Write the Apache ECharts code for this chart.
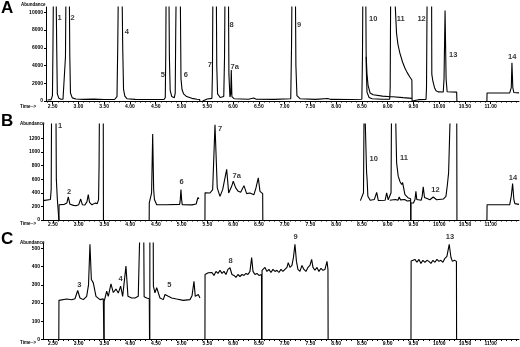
<!DOCTYPE html>
<html>
<head>
<meta charset="utf-8">
<script src="https://cdn.jsdelivr.net/npm/echarts@6.0.0/dist/echarts.min.js"></script>
<style>
html,body{margin:0;padding:0;background:#fff;}
#chart{width:520px;height:347px;}
</style>
</head>
<body>
<div id="chart"></div>
<script>
// ---------- tick values / labels ----------
const xTickValues = [2.5,3,3.5,4,4.5,5,5.5,6,6.5,7,7.5,8,8.5,9,9.5,10,10.5,11];
const xTickLabels = ['2.50','3.00','3.50','4.00','4.50','5.00','5.50','6.00','6.50','7.00','7.50','8.00','8.50','9.00','9.50','10.00','10.50','11.00'];
const yTicksA = [0,2000,4000,6000,8000,10000];
const yTicksB = [0,200,400,600,800,1000,1200];
const yTicksC = [0,100,200,300,400,500];

// ---------- panel A segments [time, abundance] ----------
const aSeg1 = [[2.40,120],[2.47,150],[2.495,600],[2.505,6000],[2.515,13000],[2.565,13000],[2.578,6000],[2.59,800],[2.62,300],[2.66,200],[2.70,200],[2.735,300],[2.748,5000],[2.758,13000],[2.822,13000],[2.832,5000],[2.845,900],[2.88,350],[2.95,220],[3.10,180],[3.30,210],[3.50,170],[3.70,170],[3.748,500],[3.762,6000],[3.775,13000],[3.845,13000],[3.859,6000],[3.875,1300],[3.90,550],[3.94,260],[4.10,180],[4.40,170],[4.66,170],[4.685,400],[4.694,5000],[4.702,13000],[4.755,13000],[4.765,5000],[4.78,1200],[4.81,520],[4.86,380],[4.878,900],[4.888,8000],[4.898,13000],[4.975,13000],[4.99,2500],[5.01,1300],[5.04,800],[5.10,500],[5.20,300],[5.30,200],[5.352,170],[5.356,0]];
const aSeg2 = [[5.41,0],[5.415,200],[5.50,220],[5.59,300],[5.600,3000],[5.61,13000],[5.675,13000],[5.684,4000],[5.70,800],[5.75,400],[5.82,500],[5.835,5000],[5.845,13000],[5.91,13000],[5.92,3000],[5.94,450],[5.955,800],[5.966,3500],[5.978,500],[6.02,260],[6.30,200],[6.40,330],[6.45,200],[6.80,180],[7.12,250],[7.135,6000],[7.145,13000],[7.21,13000],[7.22,4000],[7.24,600],[7.30,260],[7.60,180],[7.84,280],[7.90,180],[8.30,170],[8.50,200],[8.512,5000],[8.52,13000],[8.575,13000],[8.585,4000],[8.60,1000],[8.64,400],[8.70,250],[8.90,200],[9.04,200],[9.05,1500],[9.06,13000],[9.135,13000],[9.15,10500],[9.173,7660],[9.20,6400],[9.238,5400],[9.29,4400],[9.335,3720],[9.38,3200],[9.432,2700],[9.471,2370],[9.475,0]];
const aTrace2 = [[8.585,5000],[8.60,3000],[8.62,1800],[8.66,900],[8.72,700],[8.90,550],[9.06,480],[9.08,700],[9.10,480],[9.30,380],[9.471,300]];
const aSeg3 = [[9.48,0],[9.485,130],[9.60,150],[9.745,180],[9.755,1500],[9.768,13000],[9.853,13000],[9.858,3000],[9.88,2200],[9.91,1500],[9.94,1150],[9.98,1030],[10.08,1010],[10.095,2500],[10.115,10200],[10.135,2500],[10.155,1050],[10.34,1000],[10.345,0]];
const aSeg4 = [[10.927,0],[10.93,900],[11.37,920],[11.40,1500],[11.413,4300],[11.43,1500],[11.45,950],[11.55,920]];

// ---------- panel B ----------
const bSeg1 = [[2.31,285],[2.45,300],[2.465,450],[2.475,2000],[2.555,2000],[2.565,600],[2.583,323],[2.60,300],[2.612,297],[2.614,0]];
const bSeg2 = [[2.616,0],[2.618,225],[2.72,230],[2.77,250],[2.797,340],[2.83,230],[2.90,215],[2.947,210],[3.00,225],[3.038,308],[3.07,225],[3.12,220],[3.16,270],[3.185,372],[3.21,260],[3.257,223],[3.316,248],[3.36,240],[3.385,300],[3.395,800],[3.405,2000],[3.475,2000],[3.48,0]];
const bSeg3 = [[4.368,0],[4.370,250],[4.40,260],[4.415,400],[4.436,1264],[4.455,450],[4.47,300],[4.514,225],[4.70,225],[4.96,230],[4.972,300],[4.985,446],[4.998,300],[5.01,225],[5.20,222],[5.28,235],[5.30,290],[5.316,330],[5.335,310]];
const bSeg4 = [[5.451,0],[5.453,400],[5.484,406],[5.549,397],[5.601,446],[5.646,1400],[5.69,471],[5.743,347],[5.795,446],[5.873,744],[5.912,397],[5.970,495],[6.001,570],[6.048,471],[6.098,421],[6.145,406],[6.209,505],[6.261,387],[6.325,397],[6.403,372],[6.442,471],[6.487,620],[6.52,421],[6.572,387],[6.575,0]];
const bSeg5 = [[8.47,285],[8.50,290],[8.53,400],[8.545,2000],[8.575,2000],[8.59,700],[8.60,600],[8.615,350],[8.66,290],[8.74,300],[8.786,406],[8.817,287],[8.95,290],[8.98,397],[9.01,297],[9.045,300],[9.065,400],[9.077,2000],[9.141,2000],[9.173,843],[9.204,644],[9.238,565],[9.271,520],[9.29,550],[9.335,372],[9.393,327],[9.445,312],[9.448,0]];
const bTrace2 = [[9.04,290],[9.15,300],[9.20,290],[9.224,340],[9.25,295],[9.33,300],[9.38,280],[9.445,285]];
const bSeg6 = [[9.45,0],[9.452,250],[9.50,250],[9.53,300],[9.548,421],[9.565,300],[9.593,287],[9.65,290],[9.67,350],[9.690,486],[9.715,330],[9.743,308],[9.82,297],[9.885,338],[9.95,297],[10.08,308],[10.131,347],[10.156,495],[10.183,694],[10.209,1413],[10.22,2000],[10.34,2000],[10.345,0]];
const bSeg7 = [[10.927,0],[10.93,225],[11.37,225],[11.40,350],[11.426,535],[11.45,300],[11.47,240],[11.55,230]];

// ---------- panel C ----------
const cSeg1 = [[2.613,0],[2.616,215],[2.766,222],[2.863,218],[2.927,224],[2.98,269],[3.024,228],[3.089,219],[3.154,237],[3.19,300],[3.218,523],[3.245,330],[3.283,311],[3.335,237],[3.413,219],[3.477,223],[3.49,0]];
const cSeg2 = [[3.492,0],[3.494,210],[3.543,265],[3.574,237],[3.626,305],[3.671,258],[3.723,277],[3.768,255],[3.814,293],[3.853,237],[3.917,403],[3.956,237],[4.028,228],[4.092,228],[4.156,237],[4.185,245],[4.195,700],[4.26,700],[4.27,235],[4.319,228],[4.37,224],[4.375,0]];
const cSeg3 = [[4.38,0],[4.382,700],[4.445,700],[4.45,293],[4.48,256],[4.514,284],[4.578,228],[4.642,219],[4.675,247],[4.708,256],[4.739,237],[4.805,228],[4.90,222],[5.03,215],[5.16,219],[5.20,240],[5.238,320],[5.263,237],[5.322,247],[5.354,228]];
const cSeg4 = [[5.451,0],[5.453,357],[5.484,355],[5.516,367],[5.549,357],[5.587,368],[5.626,352],[5.665,374],[5.704,363],[5.743,380],[5.781,363],[5.820,374],[5.859,357],[5.898,385],[5.937,394],[5.976,357],[6.015,352],[6.053,341],[6.092,357],[6.131,346],[6.17,357],[6.209,352],[6.248,363],[6.287,357],[6.325,374],[6.358,450],[6.384,374],[6.422,357],[6.461,363],[6.5,352],[6.549,357],[6.553,0]];
const cSeg5 = [[6.558,0],[6.56,380],[6.578,380],[6.617,396],[6.655,374],[6.694,385],[6.733,368],[6.772,385],[6.811,374],[6.85,380],[6.888,368],[6.927,385],[6.966,374],[7.005,385],[7.044,396],[7.069,422],[7.102,396],[7.141,407],[7.17,451],[7.199,523],[7.228,429],[7.257,385],[7.296,374],[7.335,407],[7.373,385],[7.412,374],[7.451,396],[7.49,407],[7.523,440],[7.549,396],[7.587,380],[7.626,396],[7.665,374],[7.704,391],[7.743,380],[7.782,385],[7.821,429],[7.84,385],[7.843,0]];
const cSeg6 = [[9.452,0],[9.455,431],[9.49,429],[9.529,440],[9.568,424],[9.607,440],[9.646,418],[9.684,435],[9.723,424],[9.762,435],[9.801,429],[9.84,418],[9.879,435],[9.917,424],[9.956,440],[9.995,429],[10.034,435],[10.072,424],[10.111,446],[10.15,457],[10.195,523],[10.228,452],[10.257,429],[10.296,435],[10.335,429],[10.338,0]];

// ---------- peak labels [text, time, abundance] ----------
const labelsA = [['1',2.636,9350],['2',2.888,9350],['4',3.937,7780],['5',4.636,2930],['6',5.083,2930],['7',5.549,4060],['8',5.970,8565],['7a',6.034,3830],['9',7.283,8565],['10',8.719,9200],['11',9.252,9200],['12',9.659,9200],['13',10.273,5180],['14',11.418,4960]];
const labelsB = [['1',2.636,1375],['2',2.811,416],['6',4.999,560],['7',5.743,1338],['7a',6.067,644],['10',8.727,892],['11',9.316,907],['12',9.927,446],['14',11.432,617]];
const labelsC = [['3',3.011,302],['4',3.814,330],['5',4.758,302],['8',5.95,431],['9',7.213,561],['13',10.209,561]];

const FONT = 'Liberation Sans';
const xMinor = [];
for (let v = 24; v <= 115; v++) xMinor.push(v / 10);

const panels = [
  {grid:{left:46, top:7, width:473, height:94}, xmin:2.37, ymax:10600, yticks:yTicksA, segs:[aSeg1,aSeg2,aTrace2,aSeg3,aSeg4], labels:labelsA, xMargin:3},
  {grid:{left:43, top:124, width:476, height:96}, xmin:2.306, ymax:1410, yticks:yTicksB, segs:[bSeg1,bSeg2,bSeg3,bSeg4,bSeg5,bTrace2,bSeg6,bSeg7], labels:labelsB, xMargin:2},
  {grid:{left:43, top:243, width:476, height:96.5}, xmin:2.306, ymax:530, yticks:yTicksC, segs:[cSeg1,cSeg2,cSeg3,cSeg4,cSeg5,cSeg6], labels:labelsC, xMargin:1.5}
];

const fmtX = v => {
  const i = xTickValues.findIndex(t => Math.abs(t - v) < 1e-6);
  return i >= 0 ? xTickLabels[i] : '';
};

const grid = [], xAxis = [], yAxis = [], series = [];
panels.forEach((p, i) => {
  grid.push(Object.assign({outerBoundsMode:'none', containLabel:false}, p.grid));
  xAxis.push({
    gridIndex:i, type:'value', min:p.xmin, max:11.55, position:'bottom',
    axisLine:{show:true, lineStyle:{color:'#000', width:1}},
    axisTick:{show:true, customValues:xTickValues, length:3, lineStyle:{color:'#000', width:1}},
    axisLabel:{show:true, customValues:xTickValues, formatter:fmtX, fontSize:5, fontWeight:'bold', color:'#000', fontFamily:FONT, margin:p.xMargin},
    splitLine:{show:false}
  });
  xAxis.push({
    gridIndex:i, type:'value', min:p.xmin, max:11.55, position:'bottom',
    axisLine:{show:false},
    axisTick:{show:true, customValues:xMinor, length:1.5, lineStyle:{color:'#000', width:1}},
    axisLabel:{show:false}, splitLine:{show:false}
  });
  yAxis.push({
    gridIndex:i, type:'value', min:0, max:p.ymax, position:'left',
    axisLine:{show:true, lineStyle:{color:'#000', width:1}},
    axisTick:{show:true, customValues:p.yticks, length:2, lineStyle:{color:'#000'}},
    axisLabel:{show:true, customValues:p.yticks, formatter:v => String(v), fontSize:5, fontWeight:'bold', color:'#000', fontFamily:FONT, margin:3},
    splitLine:{show:false}
  });
  p.segs.forEach(s => series.push({
    type:'line', xAxisIndex:i*2, yAxisIndex:i, data:s, symbol:'none', showSymbol:false,
    lineStyle:{color:'#000', width:1.1}, silent:true, animation:false, clip:true
  }));
  series.push({
    type:'scatter', xAxisIndex:i*2, yAxisIndex:i, symbolSize:1, clip:false, silent:true,
    itemStyle:{color:'rgba(0,0,0,0)'},
    data:p.labels.map(l => ({name:l[0], value:[l[1], l[2]]})),
    label:{show:true, position:'inside', formatter:'{b}', fontSize:7.5, fontWeight:'bold', color:'#000', fontFamily:FONT},
    z:5
  });
});

const txt = (text, left, top, size) => ({type:'text', left, top, style:{text, fontSize:size, fontWeight:'bold', fontFamily:FONT, fill:'#000'}});
const graphic = [
  txt('A', 1, 0, 17), txt('B', 1, 113, 17), txt('C', 1, 231, 17),
  txt('Abundance', 21, 2.5, 4.5), txt('Abundance', 20, 121, 4.5), txt('Abundance', 20, 240, 4.5),
  txt('Time-->', 20, 104.5, 4.5), txt('Time-->', 20, 221, 4.5), txt('Time-->', 20, 340.5, 4.5)
];

const chart = echarts.init(document.getElementById('chart'), null, {renderer:'canvas'});
chart.setOption({animation:false, backgroundColor:'#fff', grid, xAxis, yAxis, series, graphic});
</script>
</body>
</html>
